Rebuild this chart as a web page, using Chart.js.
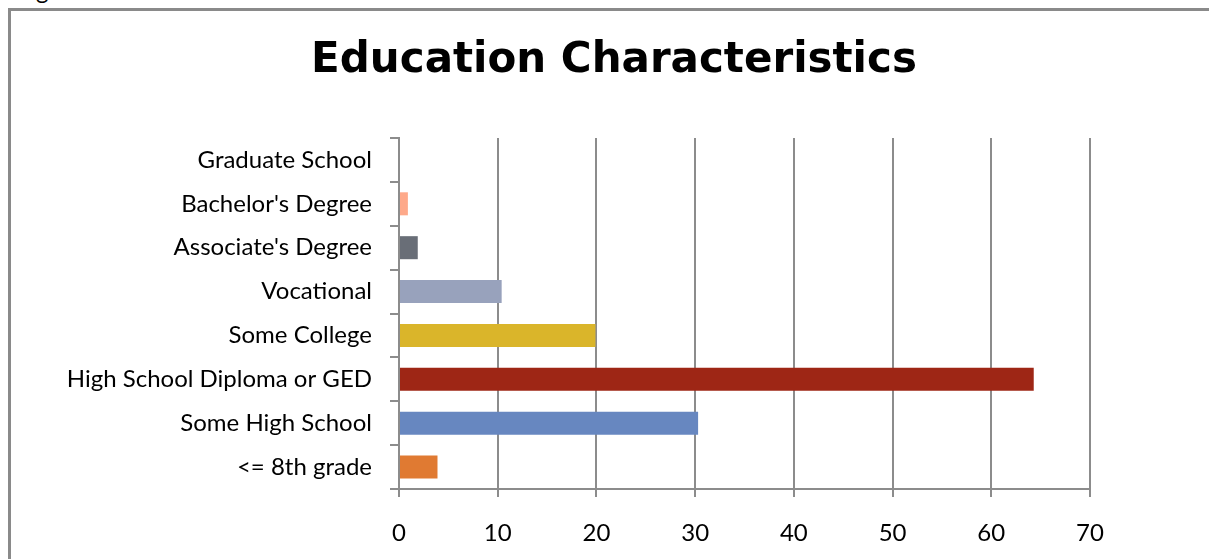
<!DOCTYPE html>
<html>
<head>
<meta charset="utf-8">
<title>Education Characteristics</title>
<script src="https://cdn.jsdelivr.net/npm/chart.js@4.4.0/dist/chart.umd.min.js"></script>
<style>
  html, body { margin: 0; padding: 0; background: #fff; overflow: hidden; }
  #page { position: relative; width: 1209px; height: 559px; overflow: hidden; }
  #frame {
    position: absolute; left: 8px; top: 8px; width: 1300px; height: 700px;
    border-left: 3px solid #8a8a8a; border-top: 3px solid #8a8a8a;
  }
  #caption { position: absolute; left: 36px; top: -24px; font: 24px/1.2 Lato, sans-serif; color: #000; }
  canvas { position: absolute; left: 0; top: 0; }
</style>
</head>
<body>
<div id="page">
  <div id="caption">g</div>
  <div id="frame"></div>
  <canvas id="edu" width="1209" height="559"></canvas>
</div>
<script>
// education levels, listed bottom to top
const categories = [
  '<= 8th grade',
  'Some High School',
  'High School Diploma or GED',
  'Some College',
  'Vocational',
  "Associate's Degree",
  "Bachelor's Degree",
  'Graduate School'
];
const percentages = [3.9, 30.3, 64.3, 19.9, 10.4, 1.9, 0.9, 0];
const barColors = ['#e07a32', '#6787c0', '#9e2615', '#dab52a', '#98a2bc', '#696e77', '#fea98a', '#8fb04a'];
const xTicks = [0, 10, 20, 30, 40, 50, 60, 70];
const titleText = 'Education Characteristics';

const axisGray = '#8c8c8c';
const labelFont = { family: 'Lato, sans-serif', size: 24 };

// heading is centred on the outer frame, not on the plot
const heading = {
  id: 'heading',
  afterDraw(chart) {
    const ctx = chart.ctx;
    ctx.save();
    ctx.font = 'bold 42px "DejaVu Sans", sans-serif';
    ctx.fillStyle = '#000';
    ctx.textAlign = 'center';
    ctx.textBaseline = 'middle';
    ctx.fillText(titleText, 614, 61);
    ctx.restore();
  }
};

new Chart(document.getElementById('edu').getContext('2d'), {
  type: 'bar',
  data: {
    labels: categories,
    datasets: [{
      data: percentages,
      backgroundColor: barColors,
      borderWidth: 0,
      barPercentage: 0.525,
      categoryPercentage: 1
    }]
  },
  options: {
    indexAxis: 'y',
    responsive: false,
    animation: false,
    devicePixelRatio: 1,
    layout: { padding: { top: 138, right: 119, bottom: 0, left: 0 } },
    plugins: {
      legend: { display: false },
      title: { display: false },
      tooltip: { enabled: false }
    },
    scales: {
      x: {
        min: 0,
        max: 70,
        afterBuildTicks: (scale) => { scale.ticks = xTicks.map(v => ({ value: v })); },
        afterFit: (scale) => { scale.height = 70; },
        grid: { color: axisGray, lineWidth: 2, tickLength: 8 },
        border: { color: axisGray, width: 2 },
        ticks: { color: '#000', font: labelFont, padding: 22 }
      },
      y: {
        reverse: true,
        afterFit: (scale) => { scale.width = 399; },
        grid: { drawOnChartArea: false, color: axisGray, lineWidth: 2, tickLength: 9, offset: true },
        border: { color: axisGray, width: 2 },
        ticks: { color: '#000', font: labelFont, padding: 18 }
      }
    }
  },
  plugins: [heading]
});
</script>
</body>
</html>
